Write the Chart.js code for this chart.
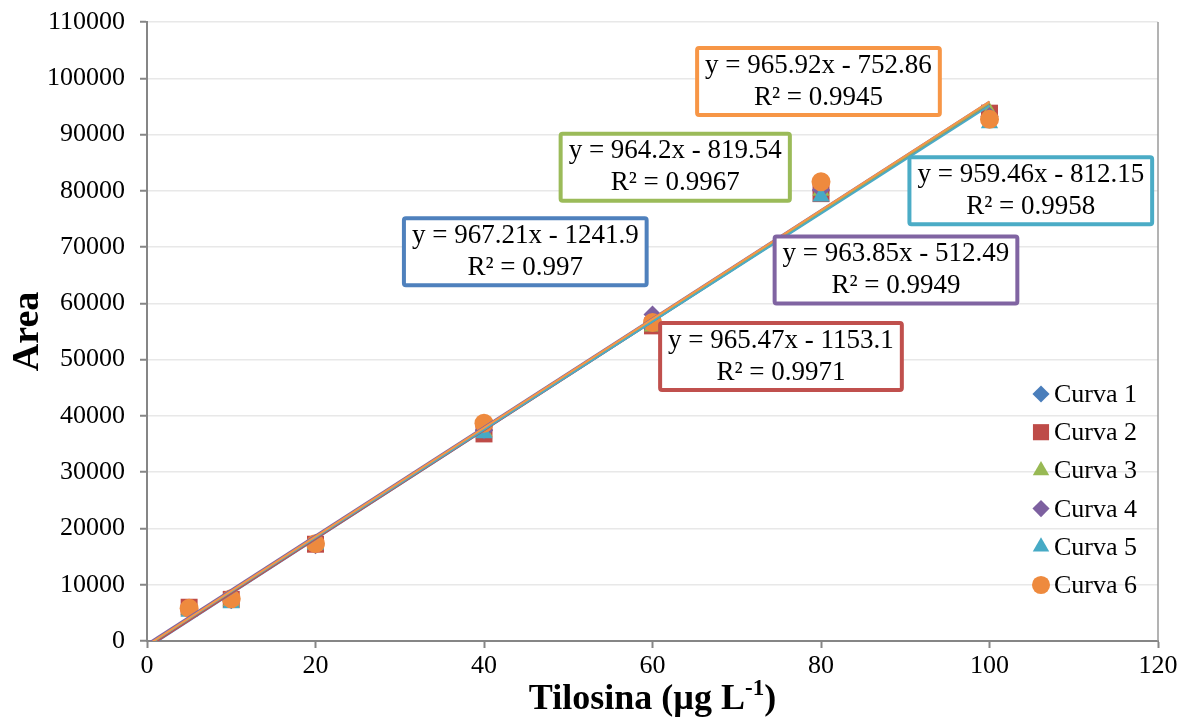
<!DOCTYPE html>
<html>
<head>
<meta charset="utf-8">
<script src="https://cdn.jsdelivr.net/npm/chart.js@4.4.0/dist/chart.umd.min.js"></script>
<style>
  html, body { margin: 0; padding: 0; background: #fff; }
  #wrap { width: 1181px; height: 721px; }
</style>
</head>
<body>
<div id="wrap"><canvas id="chart" width="1181" height="721"></canvas></div>
<script>
// data
const concentrations = [5, 10, 20, 40, 60, 80, 100];
const seriesNames = ['Curva 1', 'Curva 2', 'Curva 3', 'Curva 4', 'Curva 5', 'Curva 6'];
const curva1 = [5800, 7300, 17400, 37500, 57000, 80000, 93200];
const curva2 = [6000, 7400, 17200, 36800, 56000, 79500, 93800];
const curva3 = [5600, 7100, 17300, 37200, 55900, 80000, 94000];
const curva4 = [5700, 7300, 17000, 37400, 58000, 80200, 93300];
const curva5 = [5200, 6700, 17100, 36900, 56300, 79000, 92000];
const curva6 = [5800, 7500, 17300, 38700, 56600, 81600, 92700];
const allSeries = [curva1, curva2, curva3, curva4, curva5, curva6];

// trend line equations printed on the chart
const slopes = [967.21, 965.47, 964.2, 963.85, 959.46, 965.92];
const intercepts = [-1241.9, -1153.1, -819.54, -512.49, -812.15, -752.86];
const rSquared = ['0.997', '0.9971', '0.9967', '0.9949', '0.9958', '0.9945'];
const trendFrom = 0;
const trendTo = 100;

const xTicks = [0, 20, 40, 60, 80, 100, 120];
const yTicks = [0, 10000, 20000, 30000, 40000, 50000, 60000, 70000, 80000, 90000, 100000, 110000];

// styling
const colors = ['#4F81BD', '#C0504D', '#9BBB59', '#8064A2', '#4BACC6', '#F79646'];
const markerColors = ['#4A7EBB', '#BE4B48', '#98B954', '#7D60A0', '#46AAC5', '#EE8A3E'];
const markerStyles = ['rectRot', 'rect', 'triangle', 'rectRot', 'triangle', 'circle'];
const markerSizes = [9, 12, 10, 9, 10, 9.5];
// equation box centres, in data units
const eqAnchors = [[44.9, 69150], [75.25, 50550], [62.7, 84190], [88.9, 65950], [104.9, 80010], [79.7, 99410]];

const serif = '"Liberation Serif", "Times New Roman", serif';

const datasets = [];
allSeries.forEach((vals, i) => {
    datasets.push({
        label: seriesNames[i],
        data: concentrations.map((x, j) => ({ x, y: vals[j] })),
        showLine: false,
        pointStyle: markerStyles[i],
        pointRadius: markerSizes[i],
        pointBackgroundColor: markerColors[i],
        pointBorderWidth: 0,
        order: 15 - i
    });
});
slopes.forEach((m, i) => {
    datasets.push({
        label: 'trend ' + seriesNames[i],
        data: [trendFrom, trendTo].map(x => ({ x, y: m * x + intercepts[i] })),
        showLine: true,
        borderColor: colors[i],
        borderWidth: 2,
        pointRadius: 0,
        order: 5 - i
    });
});

const extras = {
    id: 'extras',
    afterDraw(chart) {
        const { ctx, chartArea, scales } = chart;
        ctx.save();

        // right border of plot area
        ctx.strokeStyle = '#9a9a9a';
        ctx.lineWidth = 1.5;
        ctx.beginPath();
        ctx.moveTo(chartArea.right, chartArea.top);
        ctx.lineTo(chartArea.right, chartArea.bottom);
        ctx.stroke();

        // equation boxes
        ctx.font = `27px ${serif}`;
        ctx.textAlign = 'center';
        ctx.textBaseline = 'alphabetic';
        eqAnchors.forEach((a, i) => {
            const cx = scales.x.getPixelForValue(a[0]);
            const cy = scales.y.getPixelForValue(a[1]);
            const l1 = `y = ${slopes[i]}x - ${Math.abs(intercepts[i])}`;
            const l2 = `R² = ${rSquared[i]}`;
            const w = Math.max(ctx.measureText(l1).width, ctx.measureText(l2).width) + 20;
            const h = 71;
            ctx.fillStyle = '#fff';
            ctx.strokeStyle = colors[i];
            ctx.lineWidth = 4;
            ctx.beginPath();
            ctx.roundRect(cx - w / 2 + 2, cy - h / 2 + 2, w - 4, h - 4, 2);
            ctx.fill();
            ctx.stroke();
            ctx.fillStyle = '#000';
            ctx.fillText(l1, cx, cy - 9);
            ctx.fillText(l2, cx, cy + 23);
        });

        // legend
        ctx.font = `26px ${serif}`;
        ctx.textAlign = 'left';
        seriesNames.forEach((name, i) => {
            const y = 394 + i * 38.2;
            ctx.fillStyle = markerColors[i];
            Chart.helpers.drawPoint(ctx, { pointStyle: markerStyles[i], radius: markerSizes[i] * 0.95, borderWidth: 0 }, 1041, y);
            ctx.fillStyle = '#000';
            ctx.fillText(name, 1054, y + 8);
        });

        // x axis title with superscript
        const main = 'Tilosina (µg L';
        const sup = '-1';
        const close = ')';
        const big = `bold 36px ${serif}`;
        const small = `bold 23px ${serif}`;
        ctx.font = big;
        const w1 = ctx.measureText(main).width;
        const w3 = ctx.measureText(close).width;
        ctx.font = small;
        const w2 = ctx.measureText(sup).width;
        let x = (chartArea.left + chartArea.right) / 2 - (w1 + w2 + w3) / 2;
        const base = 709;
        ctx.fillStyle = '#000';
        ctx.font = big;
        ctx.fillText(main, x, base);
        x += w1;
        ctx.font = small;
        ctx.fillText(sup, x, base - 14);
        x += w2;
        ctx.font = big;
        ctx.fillText(close, x, base);

        ctx.restore();
    }
};

new Chart(document.getElementById('chart'), {
    type: 'scatter',
    data: { datasets },
    options: {
        responsive: false,
        animation: false,
        devicePixelRatio: 1,
        layout: { padding: { left: 0, right: 23, top: 22, bottom: 0 } },
        plugins: { legend: { display: false }, tooltip: { enabled: false } },
        scales: {
            x: {
                type: 'linear',
                min: xTicks[0],
                max: xTicks[xTicks.length - 1],
                afterBuildTicks: s => { s.ticks = xTicks.map(v => ({ value: v })); },
                afterFit: s => { s.height = 80; },
                ticks: { color: '#000', font: { family: serif, size: 26 }, padding: 3 },
                grid: { drawOnChartArea: false, tickLength: 7, tickColor: '#868686', tickWidth: 2 },
                border: { color: '#868686', width: 2 }
            },
            y: {
                type: 'linear',
                min: yTicks[0],
                max: yTicks[yTicks.length - 1],
                afterBuildTicks: s => { s.ticks = yTicks.map(v => ({ value: v })); },
                afterFit: s => { s.width = 147; s.paddingTop = 0; s.paddingBottom = 0; },
                ticks: { color: '#000', font: { family: serif, size: 26 }, padding: 15, callback: v => String(v) },
                grid: { color: '#e8e8e8', lineWidth: 1.5, tickLength: 7, tickColor: '#868686', tickWidth: 2 },
                border: { color: '#868686', width: 2 },
                title: { display: true, text: 'Area', color: '#000', font: { family: serif, size: 38, weight: 'bold' }, padding: { top: 5, bottom: 0 } }
            }
        }
    },
    plugins: [extras]
});
</script>
</body>
</html>
